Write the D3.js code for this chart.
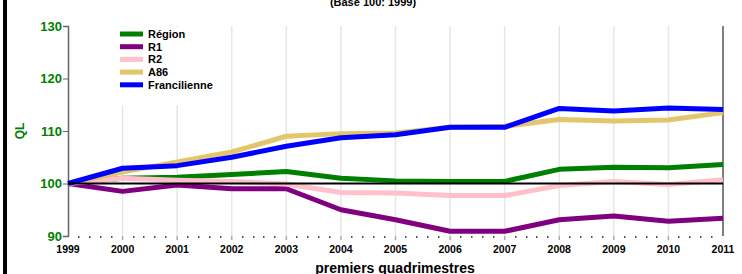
<!DOCTYPE html>
<html>
<head>
<meta charset="utf-8">
<script src="https://cdn.jsdelivr.net/npm/d3@7"></script>
<style>
  body { margin:0; background:#fff; }
  svg { display:block; font-family:"Liberation Sans", Arial, sans-serif; }
</style>
</head>
<body>
<svg id="viz-svg" width="742" height="274"></svg>
<script>
// data
var years = [1999,2000,2001,2002,2003,2004,2005,2006,2007,2008,2009,2010,2011]
var yTicks = [90,100,110,120,130]
var region = [100,101.0,101.2,101.7,102.3,101.0,100.5,100.4,100.4,102.7,103.1,103.0,103.6]
var r1 = [100,98.5,99.7,99.0,99.0,95.0,93.1,90.9,90.9,93.1,93.8,92.8,93.4]
var r2 = [100,101.0,100.6,100.4,99.9,98.3,98.2,97.7,97.7,99.6,100.4,99.8,100.7]
var a86 = [100,102.2,104.1,106.0,109.0,109.5,109.6,110.7,110.9,112.2,111.9,112.1,113.5]
var francilienne = [100,102.9,103.4,105.0,107.1,108.7,109.3,110.7,110.7,114.3,113.8,114.4,114.1]
var seriesNames = ["Région","R1","R2","A86","Francilienne"]
var seriesColors = ["#008000","#800080","#ffc0cb","#e3c66c","#0000ff"]

var series = [region, r1, r2, a86, francilienne].map(function(v, i){
  return {name: seriesNames[i], color: seriesColors[i], values: v}
})

var svg = d3.select("#viz-svg")
  , plotLeft = 68, plotRight = 723, plotTop = 26, plotBottom = 236

var x = d3.scaleLinear().domain([1999, 2011]).range([plotLeft, plotRight])
var y = d3.scaleLinear().domain([90, 130]).range([plotBottom, plotTop])

// black bar on the left edge
svg.append("rect").attr("x",3).attr("y",0).attr("width",4).attr("height",274).attr("fill","#000")

// title
svg.append("text")
  .attr("x",373).attr("y",6)
  .attr("text-anchor","middle")
  .style("font-size","11px").style("font-weight","bold")
  .text("(Base 100: 1999)")

// vertical grid
svg.append("g").selectAll("line")
  .data(years.slice(1, -1))
  .enter().append("line")
    .attr("x1", function(d){ return x(d) }).attr("x2", function(d){ return x(d) })
    .attr("y1", plotTop).attr("y2", plotBottom)
    .attr("stroke","#e6e6e6").attr("stroke-width",1.5)

// minor ticks under the plot
svg.append("g").selectAll("rect")
  .data(d3.range(0, 60).map(function(i){ return 1999 + i/5 }).filter(function(d, i){ return i % 5 != 0 }))
  .enter().append("rect")
    .attr("x", function(d){ return Math.round(x(d)) - 1 }).attr("y", plotBottom)
    .attr("width",1.5).attr("height",2)
    .attr("fill","#555")

// year ticks
svg.append("g").selectAll("line")
  .data(years.slice(1, -1))
  .enter().append("line")
    .attr("x1", function(d){ return x(d) }).attr("x2", function(d){ return x(d) })
    .attr("y1", plotBottom).attr("y2", plotBottom + 4)
    .attr("stroke","#aaa").attr("stroke-width",1.5)

// y axis
var yAxis = d3.axisLeft(y).tickValues(yTicks).tickSize(5).tickPadding(1)
var gY = svg.append("g")
  .attr("transform","translate("+plotLeft+",0)")
  .call(yAxis)
gY.select(".domain").attr("stroke","#666").attr("stroke-width",1.5)
gY.selectAll(".tick line").attr("stroke","#666")
gY.selectAll(".tick text")
  .attr("fill","#008000")
  .style("font-size","13px").style("font-weight","bold")
  .style("font-family","'Liberation Sans', Arial, sans-serif")

// right border
svg.append("line")
  .attr("x1", x(2011)).attr("x2", x(2011))
  .attr("y1", plotTop).attr("y2", plotBottom)
  .attr("stroke","#555").attr("stroke-width",1.5)

// x labels
svg.append("g").selectAll("text")
  .data(years)
  .enter().append("text")
    .attr("x", function(d){ return x(d) })
    .attr("y", 253)
    .attr("text-anchor","middle")
    .style("font-size","10.5px").style("font-weight","bold")
    .text(function(d){ return d })

// axis titles
svg.append("text")
  .attr("x",395).attr("y",273)
  .attr("text-anchor","middle")
  .style("font-size","14px").style("font-weight","bold")
  .text("premiers quadrimestres")

svg.append("text")
  .attr("transform","translate(24,"+y(110)+") rotate(-90)")
  .attr("text-anchor","middle")
  .attr("fill","#008000")
  .style("font-size","12px").style("font-weight","bold")
  .text("QL")

// legend background (hides grid)
var legend = svg.append("g").attr("id","legend")
legend.append("rect")
  .attr("x",112).attr("y",27).attr("width",110).attr("height",78)
  .attr("fill","#fff")

// series lines
var line = d3.line()
  .x(function(d, i){ return x(years[i]) })
  .y(function(d){ return y(d) })

svg.append("g").selectAll("path")
  .data(series)
  .enter().append("path")
    .attr("d", function(d){ return line(d.values) })
    .attr("fill","none")
    .attr("stroke", function(d){ return d.color })
    .attr("stroke-width",5)
    .attr("stroke-linejoin","round")

// base 100 line
svg.append("line")
  .attr("x1", x(1999)).attr("x2", x(2011))
  .attr("y1", y(100)).attr("y2", y(100))
  .attr("stroke","#000").attr("stroke-width",2)

// legend entries
var rows = legend.selectAll(".row")
  .data(series)
  .enter().append("g")
    .attr("class","row")
    .attr("transform", function(d, i){ return "translate(120,"+(34 + i*12.7)+")" })
rows.append("line")
  .attr("x1",0).attr("x2",23).attr("y1",0).attr("y2",0)
  .attr("stroke", function(d){ return d.color }).attr("stroke-width",5)
rows.append("text")
  .attr("x",28).attr("y",4)
  .style("font-size","11px").style("font-weight","bold")
  .text(function(d){ return d.name })
</script>
</body>
</html>
